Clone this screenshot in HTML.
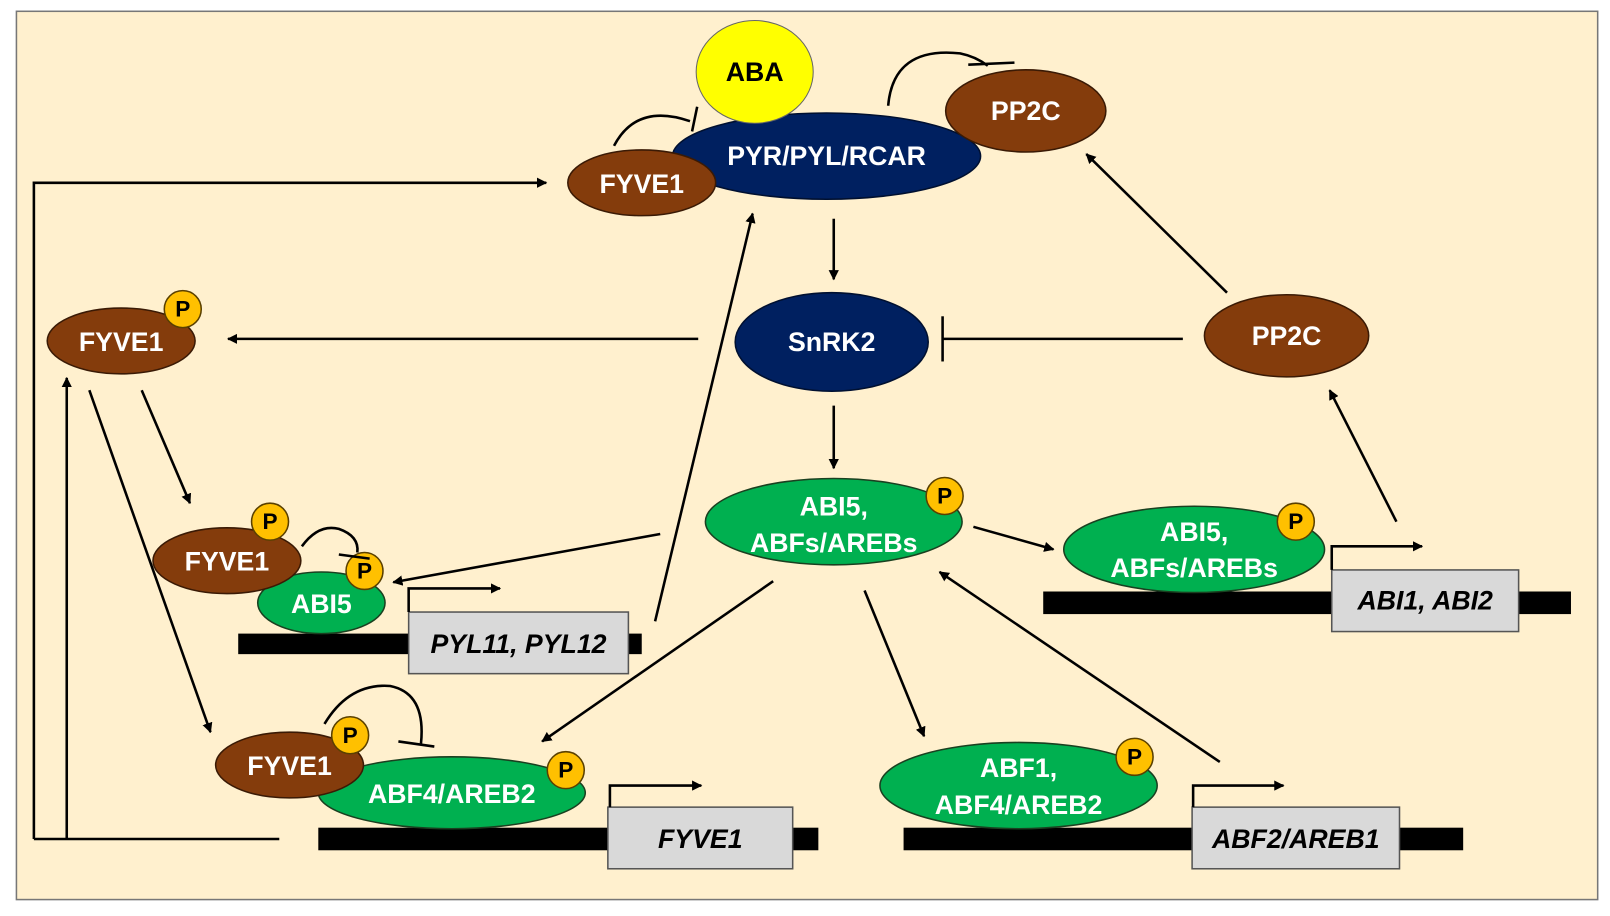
<!DOCTYPE html>
<html><head><meta charset="utf-8"><style>
html,body{margin:0;padding:0;background:#fff;}
svg{display:block;}
text{font-family:"Liberation Sans Narrow","Liberation Sans",sans-serif;font-weight:bold;text-anchor:middle;dominant-baseline:central;}
.w{fill:#fff;font-size:26px;}
.k{fill:#000;font-size:26px;}
.p{fill:#000;font-size:22px;font-family:"Liberation Sans",sans-serif;}
.g{fill:#000;font-size:26px;font-style:italic;}
.br{fill:#843C0C;stroke:#3a1a05;stroke-width:1.5;}
.nv{fill:#002060;stroke:#001030;stroke-width:1.5;}
.gr{fill:#00B050;stroke:#1a4020;stroke-width:1.5;}
.pc{fill:#FFC000;stroke:#5a4000;stroke-width:1.5;}
.bx{fill:#D9D9D9;stroke:#555;stroke-width:1.5;}
.ln{stroke:#000;stroke-width:2.5;fill:none;}
</style></head><body>
<svg width="1610" height="916" viewBox="0 0 1568 892" preserveAspectRatio="none" xmlns="http://www.w3.org/2000/svg">
<defs>
<marker id="a" viewBox="0 0 10 10" refX="9" refY="5" markerWidth="4" markerHeight="4" orient="auto-start-reverse"><path d="M0,0 L10,5 L0,10 z" fill="#000"/></marker>
</defs>
<rect x="16" y="11" width="1540" height="865" fill="#FFF0CE" stroke="#777" stroke-width="1.5"/>

<!-- connectors -->
<polyline class="ln" points="33,817 33,178 532,178" marker-end="url(#a)"/>
<line class="ln" x1="33" y1="817" x2="272" y2="817"/>
<line class="ln" x1="65" y1="817" x2="65" y2="368" marker-end="url(#a)"/>
<line class="ln" x1="812" y1="213" x2="812" y2="272" marker-end="url(#a)"/>
<line class="ln" x1="680" y1="330" x2="222" y2="330" marker-end="url(#a)"/>
<line class="ln" x1="1152" y1="330" x2="918" y2="330"/>
<line class="ln" x1="918" y1="308" x2="918" y2="352"/>
<line class="ln" x1="1195" y1="285" x2="1058" y2="150" marker-end="url(#a)"/>
<line class="ln" x1="812" y1="395" x2="812" y2="456" marker-end="url(#a)"/>
<line class="ln" x1="948" y1="513" x2="1026" y2="535" marker-end="url(#a)"/>
<line class="ln" x1="1360" y1="508" x2="1295" y2="380" marker-end="url(#a)"/>
<line class="ln" x1="138" y1="380" x2="185" y2="490" marker-end="url(#a)"/>
<line class="ln" x1="87" y1="380" x2="205" y2="713" marker-end="url(#a)"/>
<line class="ln" x1="643" y1="520" x2="383" y2="567" marker-end="url(#a)"/>
<line class="ln" x1="638" y1="605" x2="733" y2="208" marker-end="url(#a)"/>
<line class="ln" x1="753" y1="566" x2="528" y2="722" marker-end="url(#a)"/>
<line class="ln" x1="842" y1="575" x2="900" y2="717" marker-end="url(#a)"/>
<line class="ln" x1="1188" y1="742" x2="915" y2="557" marker-end="url(#a)"/>

<!-- top nodes -->
<ellipse class="nv" cx="805" cy="152" rx="150" ry="42"/>
<text class="w" x="805" y="152">PYR/PYL/RCAR</text>
<ellipse cx="735" cy="70" rx="57" ry="50" fill="#FFFF00" stroke="#666" stroke-width="1"/>
<text class="k" x="735" y="70">ABA</text>
<ellipse class="br" cx="625" cy="178" rx="72" ry="32"/>
<text class="w" x="625" y="179">FYVE1</text>
<path class="ln" d="M598,142 Q620,100 672,118"/>
<line class="ln" x1="679" y1="104" x2="674" y2="128"/>
<ellipse class="br" cx="999" cy="108" rx="78" ry="40"/>
<text class="w" x="999" y="108">PP2C</text>
<path class="ln" d="M865,103 Q870,45 935,52 Q950,55 962,64"/>
<line class="ln" x1="943" y1="63" x2="988" y2="61"/>

<ellipse class="nv" cx="810" cy="333" rx="94" ry="48"/>
<text class="w" x="810" y="333">SnRK2</text>
<ellipse class="br" cx="1253" cy="327" rx="80" ry="40"/>
<text class="w" x="1253" y="327">PP2C</text>

<ellipse class="br" cx="118" cy="332" rx="72" ry="32"/>
<text class="w" x="118" y="333">FYVE1</text>
<circle class="pc" cx="178" cy="301" r="18"/><text class="p" x="178" y="301">P</text>

<!-- center green -->
<ellipse class="gr" cx="812" cy="508" rx="125" ry="42"/>
<text class="w" x="812" y="493">ABI5,</text>
<text class="w" x="812" y="529">ABFs/AREBs</text>
<circle class="pc" cx="920" cy="483" r="18"/><text class="p" x="920" y="483">P</text>

<!-- right gene -->
<rect x="1016" y="576" width="514" height="22" fill="#000"/>
<ellipse class="gr" cx="1163" cy="535" rx="127" ry="42"/>
<text class="w" x="1163" y="518">ABI5,</text>
<text class="w" x="1163" y="553">ABFs/AREBs</text>
<circle class="pc" cx="1262" cy="508" r="18"/><text class="p" x="1262" y="508">P</text>
<rect class="bx" x="1297" y="555" width="182" height="60"/>
<text class="g" x="1388" y="585">ABI1, ABI2</text>
<polyline class="ln" points="1297,555 1297,532 1385,532" marker-end="url(#a)"/>

<!-- middle-left gene -->
<rect x="232" y="617" width="393" height="20" fill="#000"/>
<rect class="bx" x="398" y="596" width="214" height="60"/>
<text class="g" x="505" y="627">PYL11, PYL12</text>
<polyline class="ln" points="398,596 398,573 487,573" marker-end="url(#a)"/>
<ellipse class="gr" cx="313" cy="587" rx="62" ry="30"/>
<text class="w" x="313" y="588">ABI5</text>
<ellipse class="br" cx="221" cy="546" rx="72" ry="32"/>
<text class="w" x="221" y="547">FYVE1</text>
<circle class="pc" cx="263" cy="508" r="18"/><text class="p" x="263" y="508">P</text>
<circle class="pc" cx="355" cy="556" r="18"/><text class="p" x="355" y="556">P</text>
<path class="ln" d="M294,532 Q310,510 330,515 Q350,522 348,538"/>
<line class="ln" x1="330" y1="540" x2="360" y2="544"/>

<!-- bottom-left gene -->
<rect x="310" y="806" width="487" height="22" fill="#000"/>
<rect class="bx" x="592" y="786" width="180" height="60"/>
<text class="g" x="682" y="817">FYVE1</text>
<polyline class="ln" points="594,786 594,765 683,765" marker-end="url(#a)"/>
<ellipse class="gr" cx="440" cy="772" rx="130" ry="35"/>
<text class="w" x="440" y="773">ABF4/AREB2</text>
<ellipse class="br" cx="282" cy="745" rx="72" ry="32"/>
<text class="w" x="282" y="746">FYVE1</text>
<circle class="pc" cx="341" cy="716" r="18"/><text class="p" x="341" y="716">P</text>
<circle class="pc" cx="551" cy="750" r="18"/><text class="p" x="551" y="750">P</text>
<path class="ln" d="M316,705 Q340,665 380,668 Q415,675 410,724"/>
<line class="ln" x1="388" y1="722" x2="423" y2="727"/>

<!-- bottom-right gene -->
<rect x="880" y="806" width="545" height="22" fill="#000"/>
<rect class="bx" x="1161" y="786" width="202" height="60"/>
<text class="g" x="1262" y="817">ABF2/AREB1</text>
<polyline class="ln" points="1162,786 1162,765 1250,765" marker-end="url(#a)"/>
<ellipse class="gr" cx="992" cy="765" rx="135" ry="42"/>
<text class="w" x="992" y="748">ABF1,</text>
<text class="w" x="992" y="784">ABF4/AREB2</text>
<circle class="pc" cx="1105" cy="737" r="18"/><text class="p" x="1105" y="737">P</text>
</svg>
</body></html>
